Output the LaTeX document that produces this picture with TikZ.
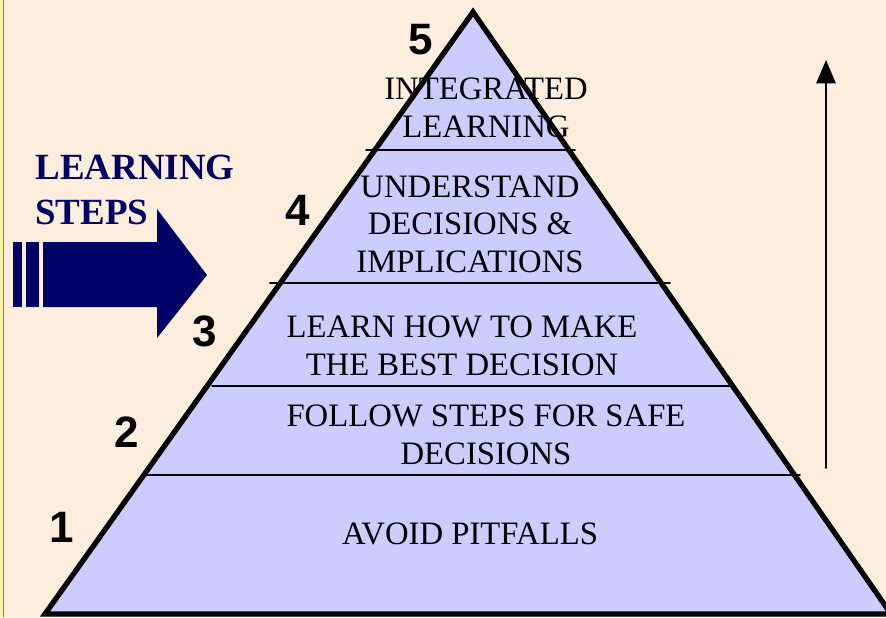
\documentclass[tikz,border=0pt]{standalone}
\usepackage{fontspec}
\setmainfont{Liberation Serif}
\newfontfamily\numfont{Liberation Sans}
\usetikzlibrary{arrows}
\definecolor{paper}{RGB}{252,237,220}
\definecolor{tier}{RGB}{204,204,255}
\definecolor{navyblue}{RGB}{0,0,102}
\definecolor{edgeyellow}{RGB}{250,242,165}

\begin{document}
\begin{tikzpicture}[line cap=round,line join=round,>=triangle 45,x=0.01cm,y=-0.01cm]
		\useasboundingbox (0,0) rectangle (886,617);
		\fill [paper] (0,0) rectangle (886,617);
		\fill [edgeyellow] (0,0) rectangle (3,617);
		\draw [line width=0.4pt,color=gray] (3.5,0)-- (3.5,617);
		% pyramid
		\begin{scope}
			\clip (0,0) rectangle (886,617);
			\coordinate (top) at (473,12);
			\coordinate (left) at (45,614);
			\coordinate (right) at (891,614);
			\fill [tier] (top) -- (left) -- (right) -- cycle;
			\draw [line width=0.5pt] (366,150)-- (575,150);
			\draw [line width=0.5pt] (270,283)-- (670,283);
			\draw [line width=0.5pt] (212,386)-- (732,386);
			\draw [line width=0.5pt] (143,475)-- (800,475);
			\draw [line width=1.5pt,line join=miter] (top) -- (left) -- (right) -- cycle;
		\end{scope}
		% big arrow on the left
		\fill [navyblue] (13,242) rectangle (22,307);
		\fill [navyblue] (26,242) rectangle (39,307);
		\fill [navyblue] (43,242)-- (157,242)-- (157,209)-- (207,275)-- (157,338)-- (157,307)-- (43,307)-- cycle;
		\node [anchor=west,align=left,text=navyblue,font=\bfseries\fontsize{10.5}{13}\selectfont] (title) at (23,190) {LEARNING\\STEPS};
		% rising arrow
		\coordinate (upstart) at (826,468);
		\coordinate (upend) at (826,60);
		\draw [->,line width=0.5pt] (upstart)-- (upend);
		\begin{scope}[every node/.style={align=center,font=\fontsize{9.3}{10.7}\selectfont}]
			\node (lvlfive) at (486,108) {INTEGRATED\\LEARNING};
			\node (lvlfour) at (470,224) {UNDERSTAND\\DECISIONS \&\\IMPLICATIONS};
			\node (lvlthree) at (462,346) {LEARN HOW TO MAKE\\THE BEST DECISION};
			\node (lvltwo) at (486,435) {FOLLOW STEPS FOR SAFE\\DECISIONS};
			\node (lvlone) at (470,534) {AVOID PITFALLS};
		\end{scope}
		\begin{scope}[every node/.style={font=\numfont\bfseries\fontsize{12.5}{14}\selectfont}]
			\node (nfive) at (421,40) {5};
			\node (nfour) at (298,210) {4};
			\node (nthree) at (205,331) {3};
			\node (ntwo) at (127,432) {2};
			\node (none) at (62,527) {1};
		\end{scope}
	\end{tikzpicture}
\end{document}
